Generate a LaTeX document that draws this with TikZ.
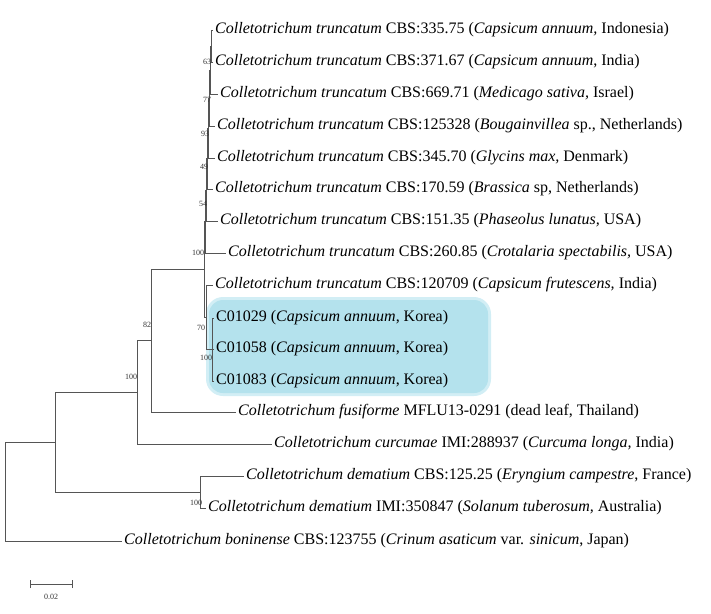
\documentclass[tikz,border=0pt]{standalone}
\usepackage{fontspec}
\setmainfont{Liberation Serif}
\definecolor{hlblue}{RGB}{180,226,237}
\definecolor{hledge}{RGB}{210,238,245}
\definecolor{branch}{RGB}{85,85,85}
\tikzset{
  leaf/.style={anchor=west,inner xsep=2pt,inner ysep=0pt,font=\fontsize{16}{17}\selectfont},
  boot/.style={inner sep=0pt,font=\fontsize{8}{8}\selectfont,text=black!80},
  br/.style={draw=branch,line width=0.7pt},
}
\begin{document}
\begin{tikzpicture}[x=1pt,y=-1pt]
\useasboundingbox (0,0) rectangle (711,613);
% highlight box
\fill[hledge, rounded corners=17pt] (206,297) rectangle (491,396);
\fill[hlblue, rounded corners=14pt] (209,300) rectangle (488,393);
% internal nodes
\coordinate (n63) at (211,46);
\coordinate (n77) at (210,70);
\coordinate (n93) at (209,98);
\coordinate (n49) at (208,128);
\coordinate (n54) at (207,158);
\coordinate (nx) at (206,190);
\coordinate (nu) at (205,221);
\coordinate (nmain) at (204,269);
\coordinate (n70) at (206,317);
\coordinate (nc) at (212,349);
\coordinate (n82) at (151,340);
\coordinate (nb) at (137,392);
\coordinate (ndem) at (200,492);
\coordinate (n55) at (55,442);
\coordinate (root) at (5,491);
% leaves
\node[leaf] (l1) at (213,30) {\textit{Colletotrichum truncatum} CBS:335.75 (\textit{Capsicum annuum,} Indonesia)};
\node[leaf] (l2) at (213,62) {\textit{Colletotrichum truncatum} CBS:371.67 (\textit{Capsicum annuum}, India)};
\node[leaf] (l3) at (218,94) {\textit{Colletotrichum truncatum} CBS:669.71 (\textit{Medicago sativa,} Israel)};
\node[leaf] (l4) at (215,126) {\textit{Colletotrichum truncatum} CBS:125328 (\textit{Bougainvillea} sp., Netherlands)};
\node[leaf] (l5) at (215,158) {\textit{Colletotrichum truncatum} CBS:345.70 (\textit{Glycins max,} Denmark)};
\node[leaf] (l6) at (213,189) {\textit{Colletotrichum truncatum} CBS:170.59 (\textit{Brassica} sp, Netherlands)};
\node[leaf] (l7) at (218,221) {\textit{Colletotrichum truncatum} CBS:151.35 (\textit{Phaseolus lunatus,} USA)};
\node[leaf] (l8) at (226,253) {\textit{Colletotrichum truncatum} CBS:260.85 (\textit{Crotalaria spectabilis,} USA)};
\node[leaf] (l9) at (213,285) {\textit{Colletotrichum truncatum} CBS:120709 (\textit{Capsicum frutescens,} India)};
\node[leaf] (l10) at (214,318) {C01029 (\textit{Capsicum annuum}, Korea)};
\node[leaf] (l11) at (214,349) {C01058 (\textit{Capsicum annuum}, Korea)};
\node[leaf] (l12) at (214,381) {C01083 (\textit{Capsicum annuum}, Korea)};
\node[leaf] (l13) at (236,412) {\textit{Colletotrichum fusiforme} MFLU13-0291 (dead leaf, Thailand)};
\node[leaf] (l14) at (272,444) {\textit{Colletotrichum curcumae} IMI:288937 (\textit{Curcuma longa,} India)};
\node[leaf] (l15) at (244,476) {\textit{Colletotrichum dematium} CBS:125.25 (\textit{Eryngium campestre}, France)};
\node[leaf] (l16) at (206,508) {\textit{Colletotrichum dematium} IMI:350847 (\textit{Solanum tuberosum,} Australia)};
\node[leaf] (l17) at (122,541) {\textit{Colletotrichum boninense} CBS:123755 (\textit{Crinum asaticum} var. \textit{sinicum}, Japan)};
% branches
\draw[br] (n63) |- (l1.west);
\draw[br] (n63) |- (l2.west);
\draw[br] (n77) |- (n63);
\draw[br] (n77) |- (l3.west);
\draw[br] (n93) |- (n77);
\draw[br] (n93) |- (l4.west);
\draw[br] (n49) |- (n93);
\draw[br] (n49) |- (l5.west);
\draw[br] (n54) |- (n49);
\draw[br] (n54) |- (l6.west);
\draw[br] (nx) |- (n54);
\draw[br] (nx) |- (l7.west);
\draw[br] (nu) |- (nx);
\draw[br] (nu) |- (l8.west);
\draw[br] (nmain) |- (nu);
\draw[br] (nmain) |- (n70);
\draw[br] (n70) |- (l9.west);
\draw[br] (n70) |- (nc);
\draw[br] (nc) |- (l10.west);
\draw[br] (nc) |- (l11.west);
\draw[br] (nc) |- (l12.west);
\draw[br] (n82) |- (nmain);
\draw[br] (n82) |- (l13.west);
\draw[br] (nb) |- (n82);
\draw[br] (nb) |- (l14.west);
\draw[br] (ndem) |- (l15.west);
\draw[br] (ndem) |- (l16.west);
\draw[br] (n55) |- (nb);
\draw[br] (n55) |- (ndem);
\draw[br] (root) |- (n55);
\draw[br] (root) |- (l17.west);
% bootstrap values
\node[boot] (b63) at (207,62) {63};
\node[boot] (b77) at (207,100) {77};
\node[boot] (b93) at (205,134) {93};
\node[boot] (b49) at (204,167) {49};
\node[boot] (b54) at (203,204) {54};
\node[boot] (b100a) at (198,253) {100};
\node[boot] (b70) at (201,328) {70};
\node[boot] (b100c) at (206,358) {100};
\node[boot] (b82) at (147,325) {82};
\node[boot] (b100b) at (131,377) {100};
\node[boot] (b100d) at (196,503) {100};
% scale bar
\coordinate (s1) at (30,584);
\coordinate (s2) at (72,584);
\draw[br] (s1) -- (s2);
\draw[br] ([yshift=-4pt]s1) -- ([yshift=4pt]s1);
\draw[br] ([yshift=-4pt]s2) -- ([yshift=4pt]s2);
\node[boot] (sl) at (51,597) {0.02};
\end{tikzpicture}
\end{document}
